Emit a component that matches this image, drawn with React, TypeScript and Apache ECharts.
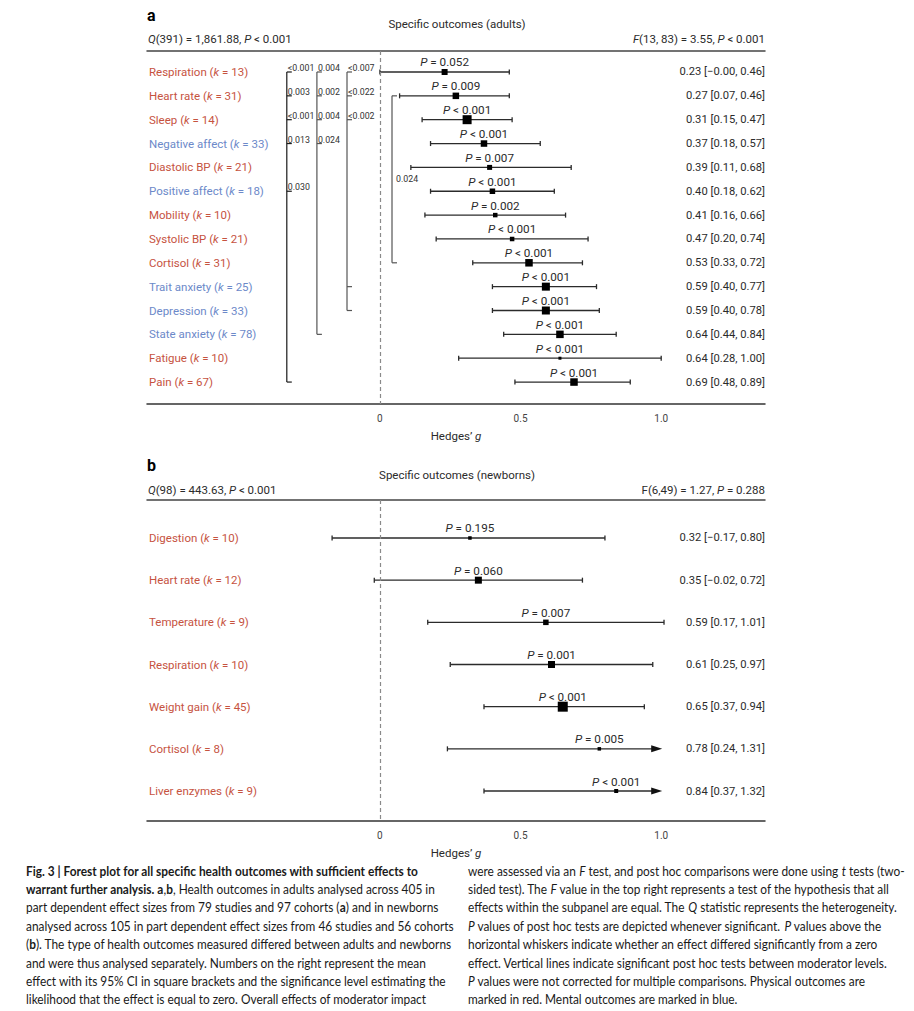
import React, { useEffect, useRef } from "react";
import * as echarts from "echarts";

// ---------- data: panel a (adults) ----------
const adultLabels = ["Respiration", "Heart rate", "Sleep", "Negative affect", "Diastolic BP", "Positive affect", "Mobility", "Systolic BP", "Cortisol", "Trait anxiety", "Depression", "State anxiety", "Fatigue", "Pain"];
const adultK = [13, 31, 14, 33, 21, 18, 10, 21, 31, 25, 33, 78, 10, 67];
const adultKind = ["phys", "phys", "phys", "ment", "phys", "ment", "phys", "phys", "phys", "ment", "ment", "ment", "phys", "phys"];
const adultEst = [0.23, 0.27, 0.31, 0.37, 0.39, 0.4, 0.41, 0.47, 0.53, 0.59, 0.59, 0.64, 0.64, 0.69];
const adultLo = [-0.0, 0.07, 0.15, 0.18, 0.11, 0.18, 0.16, 0.2, 0.33, 0.4, 0.4, 0.44, 0.28, 0.48];
const adultHi = [0.46, 0.46, 0.47, 0.57, 0.68, 0.62, 0.66, 0.74, 0.72, 0.77, 0.78, 0.84, 1.0, 0.89];
const adultP = ["= 0.052", "= 0.009", "< 0.001", "< 0.001", "= 0.007", "< 0.001", "= 0.002", "< 0.001", "< 0.001", "< 0.001", "< 0.001", "< 0.001", "< 0.001", "< 0.001"];
const adultWeight = [6, 6.5, 9, 6.5, 5, 5.5, 4.5, 4.5, 7.5, 8, 8, 7.5, 3, 7.5];

// post hoc comparisons (vertical lines), rows index into adultLabels
const postHocFrom = [[0, 1, 2, 3, 5], [0, 1, 2, 3], [0, 1, 2], [1]];
const postHocTo = [[13], [11], [9, 10], [8]];
const postHocP = [["<0.001", "0.003", "<0.001", "0.013", "0.030"], ["0.004", "0.002", "0.004", "0.024"], ["<0.007", "<0.022", "<0.002"], ["0.024"]];

// ---------- data: panel b (newborns) ----------
const nbLabels = ["Digestion", "Heart rate", "Temperature", "Respiration", "Weight gain", "Cortisol", "Liver enzymes"];
const nbK = [10, 12, 9, 10, 45, 8, 9];
const nbEst = [0.32, 0.35, 0.59, 0.61, 0.65, 0.78, 0.84];
const nbLo = [-0.17, -0.02, 0.17, 0.25, 0.37, 0.24, 0.37];
const nbHi = [0.8, 0.72, 1.01, 0.97, 0.94, 1.31, 1.32];
const nbP = ["= 0.195", "= 0.060", "= 0.007", "= 0.001", "< 0.001", "= 0.005", "< 0.001"];
const nbWeight = [3.5, 7, 5.5, 7, 10, 3.5, 4];

const xTicks = [0, 0.5, 1];

// ---------- texts ----------
const captionLeft = [
  "{b|Fig. 3 | Forest plot for all specific health outcomes with sufficient effects to}",
  "{b|warrant further analysis. a},{b|b}, Health outcomes in adults analysed across 405 in",
  "part dependent effect sizes from 79 studies and 97 cohorts ({b|a}) and in newborns",
  "analysed across 105 in part dependent effect sizes from 46 studies and 56 cohorts",
  "({b|b}). The type of health outcomes measured differed between adults and newborns",
  "and were thus analysed separately. Numbers on the right represent the mean",
  "effect with its 95% CI in square brackets and the significance level estimating the",
  "likelihood that the effect is equal to zero. Overall effects of moderator impact",
];
const captionRight = [
  "were assessed via an {i|F} test, and post hoc comparisons were done using {i|t} tests (two-",
  "sided test). The {i|F} value in the top right represents a test of the hypothesis that all",
  "effects within the subpanel are equal. The {i|Q} statistic represents the heterogeneity.",
  "{i|P} values of post hoc tests are depicted whenever significant. {i|P} values above the",
  "horizontal whiskers indicate whether an effect differed significantly from a zero",
  "effect. Vertical lines indicate significant post hoc tests between moderator levels.",
  "{i|P} values were not corrected for multiple comparisons. Physical outcomes are",
  "marked in red. Mental outcomes are marked in blue.",
];

const FONT = 'Roboto, "Noto Sans", sans-serif';
const CAP_FONT = 'Lato, "Noto Sans", sans-serif';
const RED = "#c6533f";
const BLUE = "#6c89c9";
const INK = "#2b2b2b";

function fmt(v: number) {
  const neg = v < 0 || Object.is(v, -0);
  return (neg ? "\u2212" : "") + Math.abs(v).toFixed(2);
}

function forestRender(est: number[], lo: number[], hi: number[], w: number[], p: string[]) {
  return (params: any, api: any) => {
    const i = params.dataIndex;
    const row = api.value(1);
    const arrow = hi[i] > 1.05;
    const a = api.coord([lo[i], row]);
    const b = api.coord([arrow ? 1.0 : hi[i], row]);
    const e = api.coord([est[i], row]);
    const y = a[1];
    const s = w[i];
    const ls = { stroke: INK, lineWidth: 1.3 };
    const kids: any[] = [];
    kids.push({ type: "line", shape: { x1: a[0], y1: y, x2: arrow ? b[0] - 8 : b[0], y2: y }, style: ls });
    kids.push({ type: "line", shape: { x1: a[0], y1: y - 2.5, x2: a[0], y2: y + 2.5 }, style: ls });
    if (arrow) {
      kids.push({ type: "polygon", shape: { points: [[b[0] - 10, y - 3.5], [b[0] + 1, y], [b[0] - 10, y + 3.5]] }, style: { fill: "#111" } });
    } else {
      kids.push({ type: "line", shape: { x1: b[0], y1: y - 2.5, x2: b[0], y2: y + 2.5 }, style: ls });
    }
    kids.push({ type: "rect", shape: { x: e[0] - s / 2, y: y - s / 2, width: s, height: s }, style: { fill: "#000" } });
    kids.push({
      type: "text",
      x: e[0],
      y: y - 9.5,
      style: {
        text: `{i|P} ${p[i]}`,
        rich: { i: { fontStyle: "italic", fontSize: 11.7, fontFamily: FONT, fill: INK } },
        fontSize: 11.7,
        fontFamily: FONT,
        fill: INK,
        align: "center",
        verticalAlign: "middle",
      },
    });
    return { type: "group", children: kids };
  };
}

function labelFormatter(labels: string[], ks: number[], kinds: string[]) {
  return (v: number) => {
    const i = Math.round(v);
    if (i < 0 || i >= labels.length) return "";
    const c = kinds[i] === "ment" ? "b" : "r";
    return `{${c}|${labels[i]} (}{${c}k|k}{${c}| = ${ks[i]})}`;
  };
}

const labelRich = {
  r: { color: RED, fontSize: 11.5, fontFamily: FONT },
  rk: { color: RED, fontSize: 11.5, fontFamily: FONT, fontStyle: "italic" },
  b: { color: BLUE, fontSize: 11.5, fontFamily: FONT },
  bk: { color: BLUE, fontSize: 11.5, fontFamily: FONT, fontStyle: "italic" },
};

export default function App() {
  const ref = useRef<HTMLDivElement>(null);
  useEffect(() => {
    if (!ref.current) return;
    const chart = echarts.init(ref.current, undefined, { renderer: "svg" });

    const X_MIN = -0.828;
    const X_MAX = 1.369;
    const adultRows = adultLabels.map((_, i) => i);
    const nbRows = nbLabels.map((_, i) => i);

    // caption scale
    let capScale = 0.86;
    try {
      const ctx = document.createElement("canvas").getContext("2d");
      if (ctx) {
        ctx.font = "12.5px Lato";
        const plain = captionRight[0].replace(/\{[a-z]\|([^}]*)\}/g, "$1");
        const wdt = ctx.measureText(plain).width;
        if (wdt > 0) capScale = 437 / wdt;
      }
    } catch (e) {}

    // brackets
    const colX = [-0.331, -0.224, -0.117, 0.043];
    const colColor = ["#1a1a1a", "#555", "#555", "#555"];
    type Seg = { kind: string; c: number; r1: number; r2: number; text?: string };
    const segs: Seg[] = [];
    postHocFrom.forEach((from, c) => {
      const to = postHocTo[c];
      const all = from.concat(to);
      const r1 = Math.min(...all);
      const r2 = Math.max(...all);
      segs.push({ kind: "v", c, r1, r2 });
      all.forEach((r) => segs.push({ kind: "t", c, r1: r, r2: r }));
      if (from.length === 1 && to.length === 1) {
        segs.push({ kind: "mid", c, r1, r2, text: postHocP[c][0] });
      } else {
        from.forEach((r, j) => segs.push({ kind: "l", c, r1: r, r2: r, text: postHocP[c][j] }));
      }
    });

    const bracketRender = (params: any, api: any) => {
      const s = segs[params.dataIndex];
      const p1 = api.coord([colX[s.c], s.r1]);
      const p2 = api.coord([colX[s.c], s.r2]);
      const st = { stroke: colColor[s.c], lineWidth: 1.2 };
      if (s.kind === "v") return { type: "line", shape: { x1: p1[0], y1: p1[1], x2: p2[0], y2: p2[1] }, style: st };
      if (s.kind === "t") return { type: "line", shape: { x1: p1[0], y1: p1[1], x2: p1[0] + 5, y2: p1[1] }, style: st };
      const tx = s.kind === "mid" ? p1[0] + 4 : p1[0] + 1;
      const ty = s.kind === "mid" ? (p1[1] + p2[1]) / 2 : p1[1] - 4;
      return {
        type: "text",
        x: tx,
        y: ty,
        style: { text: s.text, fontSize: 8.8, fontFamily: FONT, fill: "#333", align: "left", verticalAlign: "middle" },
      };
    };

    const xBottom = (gridIndex: number) => ({
      type: "value",
      gridIndex,
      min: X_MIN,
      max: X_MAX,
      position: "bottom",
      axisLine: { show: true, onZero: false, lineStyle: { color: "#333", width: 1.5 } },
      axisTick: { show: false },
      splitLine: { show: false },
      axisLabel: {
        customValues: xTicks,
        formatter: (v: number) => (v === 0 ? "0" : v.toFixed(1)),
        color: "#444",
        fontSize: 10,
        fontFamily: FONT,
        margin: 9,
      },
      name: "Hedges\u2019 {g|g}",
      nameLocation: "middle",
      nameGap: 26,
      nameTextStyle: {
        color: INK,
        fontSize: 11.5,
        fontFamily: FONT,
        rich: { g: { fontStyle: "italic", fontSize: 11.5, fontFamily: FONT, color: INK } },
      },
    });
    const xTop = (gridIndex: number) => ({
      type: "value",
      gridIndex,
      min: X_MIN,
      max: X_MAX,
      position: "top",
      axisLine: { show: true, onZero: false, lineStyle: { color: "#444", width: 1.5 } },
      axisTick: { show: false },
      splitLine: { show: false },
      axisLabel: { show: false },
    });
    const yLeft = (gridIndex: number, min: number, max: number, rows: number[], fmtr: any) => ({
      type: "value",
      gridIndex,
      inverse: true,
      min,
      max,
      position: "left",
      axisLine: { show: false, onZero: false },
      axisTick: { show: false },
      splitLine: { show: false },
      axisLabel: { inside: true, margin: 2, customValues: rows, formatter: fmtr, rich: labelRich },
    });
    const yRight = (gridIndex: number, min: number, max: number, rows: number[], fmtr: any) => ({
      type: "value",
      gridIndex,
      inverse: true,
      min,
      max,
      position: "right",
      axisLine: { show: false, onZero: false },
      axisTick: { show: false },
      splitLine: { show: false },
      axisLabel: { inside: true, margin: 0, customValues: rows, formatter: fmtr, color: INK, fontSize: 11.2, fontFamily: FONT },
    });

    const markZero = {
      silent: true,
      symbol: "none",
      label: { show: false },
      lineStyle: { type: [4, 3], color: "#8a8a8a", width: 1.2 },
      data: [{ xAxis: 0 }],
    };

    const headerText = (x: number, y: number, text: string, align: string, extra: any = {}) => ({
      type: "text",
      x,
      y,
      style: {
        text,
        fontSize: 11.5,
        fontFamily: FONT,
        fill: INK,
        align,
        verticalAlign: "middle",
        rich: { i: { fontStyle: "italic", fontSize: 11.5, fontFamily: FONT, fill: INK } },
        ...extra,
      },
    });

    const capRich = {
      b: { fontWeight: "bold", fontSize: 12.5, fontFamily: CAP_FONT, fill: "#1a1a1a" },
      i: { fontStyle: "italic", fontSize: 12.5, fontFamily: CAP_FONT, fill: "#1a1a1a" },
    };
    const capLine = (x: number, y: number, text: string) => ({
      type: "text",
      x,
      y,
      scaleX: capScale,
      style: { text, fontSize: 12.5, fontFamily: CAP_FONT, fill: "#1a1a1a", align: "left", verticalAlign: "middle", rich: capRich },
    });

    const graphics: any[] = [
      headerText(147, 15, "a", "left", { fontSize: 16, fontWeight: "bold", fill: "#000" }),
      headerText(457, 24, "Specific outcomes (adults)", "center"),
      headerText(148, 39, "{i|Q}(391) = 1,861.88, {i|P} < 0.001", "left"),
      headerText(765, 39, "{i|F}(13, 83) = 3.55, {i|P} < 0.001", "right"),
      headerText(147, 465, "b", "left", { fontSize: 16, fontWeight: "bold", fill: "#000" }),
      headerText(457, 475, "Specific outcomes (newborns)", "center"),
      headerText(148, 490, "{i|Q}(98) = 443.63, {i|P} < 0.001", "left"),
      headerText(765, 490, "F(6,49) = 1.27, {i|P} = 0.288", "right"),
    ];
    captionLeft.forEach((t, i) => graphics.push(capLine(26, 871 + i * 18.4, t)));
    captionRight.forEach((t, i) => graphics.push(capLine(468, 871 + i * 18.4, t)));

    const option: any = {
      animation: false,
      backgroundColor: "#fff",
      grid: [
        { left: 147, right: 149, top: 51, height: 353 },
        { left: 147, right: 149, top: 500, height: 321 },
      ],
      xAxis: [xBottom(0), xTop(0), xBottom(1), xTop(1)],
      yAxis: [
        yLeft(0, -0.88, 13.92, adultRows, labelFormatter(adultLabels, adultK, adultKind)),
        yRight(0, -0.88, 13.92, adultRows, (v: number) => {
          const i = Math.round(v);
          return `${adultEst[i].toFixed(2)} [${fmt(adultLo[i])}, ${fmt(adultHi[i])}]`;
        }),
        yLeft(1, -0.901, 6.711, nbRows, labelFormatter(nbLabels, nbK, nbLabels.map(() => "phys"))),
        yRight(1, -0.901, 6.711, nbRows, (v: number) => {
          const i = Math.round(v);
          return `${nbEst[i].toFixed(2)} [${fmt(nbLo[i])}, ${fmt(nbHi[i])}]`;
        }),
      ],
      series: [
        {
          type: "custom",
          xAxisIndex: 0,
          yAxisIndex: 0,
          renderItem: forestRender(adultEst, adultLo, adultHi, adultWeight, adultP),
          data: adultEst.map((v, i) => [v, i]),
          encode: { x: 0, y: 1 },
          markLine: markZero,
          z: 3,
        },
        {
          type: "custom",
          xAxisIndex: 0,
          yAxisIndex: 0,
          renderItem: bracketRender,
          data: segs.map((s) => [colX[s.c], s.r1]),
          encode: { x: 0, y: 1 },
          z: 2,
        },
        {
          type: "custom",
          xAxisIndex: 2,
          yAxisIndex: 2,
          renderItem: forestRender(nbEst, nbLo, nbHi, nbWeight, nbP),
          data: nbEst.map((v, i) => [v, i]),
          encode: { x: 0, y: 1 },
          markLine: markZero,
          z: 3,
        },
      ],
      graphic: graphics,
    };
    chart.setOption(option);
    return () => chart.dispose();
  }, []);
  return <div ref={ref} style={{ position: "absolute", left: 0, top: 0, width: 914, height: 1011 }} />;
}
